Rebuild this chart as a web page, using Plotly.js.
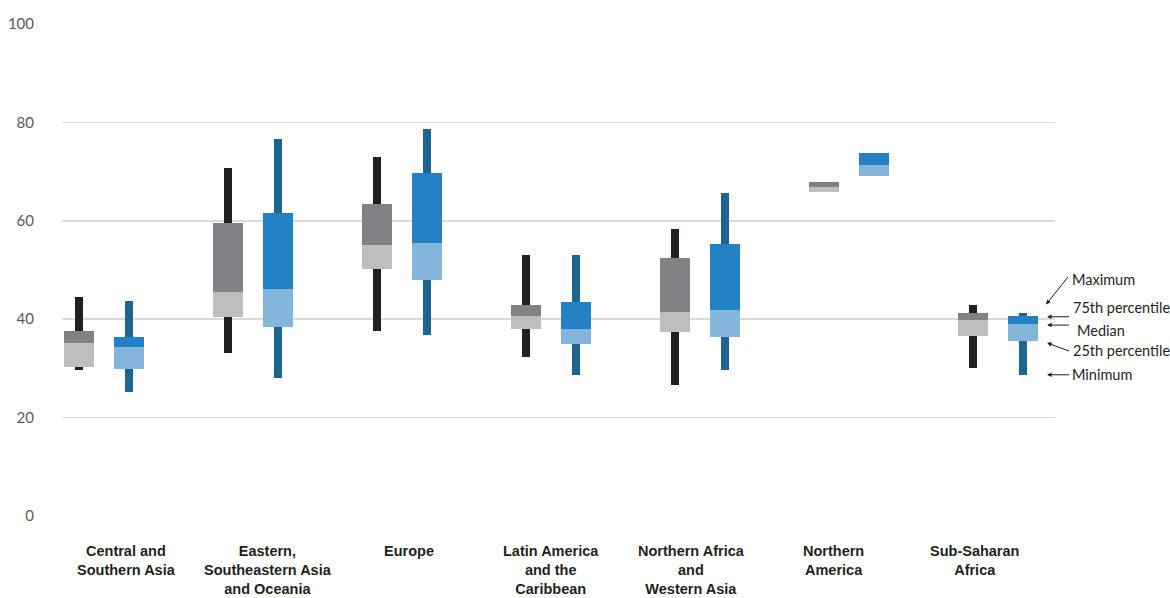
<!DOCTYPE html>
<html>
<head>
<meta charset="utf-8">
<script src="https://cdn.plot.ly/plotly-3.0.1.min.js"></script>
<style>
  html, body { margin: 0; padding: 0; background: #ffffff; }
  #chart { width: 1170px; height: 598px; }
</style>
</head>
<body>
<div id="chart"></div>
<script>
// Regions shown along the horizontal axis
const regions = [
  "Central and<br>Southern Asia",
  "Eastern,<br>Southeastern Asia<br>and Oceania",
  "Europe",
  "Latin America<br>and the<br>Caribbean",
  "Northern Africa<br>and<br>Western Asia",
  "Northern<br>America",
  "Sub-Saharan<br>Africa"
];

// Grey series: minimum, quartiles, median, maximum per region
const greyMin = [29.6, 33.2, 37.7, 32.4, 26.7, 65.9, 30.0];
const greyQ1  = [30.3, 40.5, 50.2, 38.1, 37.5, 65.9, 36.5];
const greyMed = [35.2, 45.6, 55.1, 40.7, 41.5, 66.9, 39.9];
const greyQ3  = [37.6, 59.6, 63.5, 42.9, 52.5, 67.9, 41.2];
const greyMax = [44.5, 70.8, 73.0, 53.1, 58.4, 67.9, 42.9];

// Blue series: minimum, quartiles, median, maximum per region
const blueMin = [25.2, 28.1, 36.7, 28.7, 29.6, 69.1, 28.7];
const blueQ1  = [29.9, 38.5, 47.9, 35.0, 36.3, 69.1, 35.5];
const blueMed = [34.4, 46.2, 55.5, 38.0, 41.9, 71.4, 39.1];
const blueQ3  = [36.4, 61.6, 69.8, 43.5, 55.3, 73.8, 40.7];
const blueMax = [43.7, 76.7, 78.7, 53.1, 65.7, 73.8, 41.3];

// Key labels drawn to the right of the last group
const keyLabels = ["Maximum", "75th percentile", "Median", "25th percentile", "Minimum"];

// ---- layout constants ----
const PAIR_OFFSET = 0.168;   // distance of each box from its group centre
const BOX_W = 0.201;
const WHISKER_W = 0.054;
const LABEL_START = 0.154;   // category label placement along the axis
const LABEL_STEP = 0.948;

const idx = regions.map((_, i) => i);
const diff = (a, b) => a.map((v, i) => v - b[i]);

function boxTraces(xs, mn, q1, med, q3, mx, colors) {
  const common = { type: "bar", x: xs, hoverinfo: "skip", showlegend: false };
  return [
    Object.assign({}, common, { base: mn, y: diff(mx, mn), width: WHISKER_W,
      marker: { color: colors.whisker, line: { width: 0 } } }),
    Object.assign({}, common, { base: q1, y: diff(med, q1), width: BOX_W,
      marker: { color: colors.lower, line: { width: 0 } } }),
    Object.assign({}, common, { base: med, y: diff(q3, med), width: BOX_W,
      marker: { color: colors.upper, line: { width: 0 } } })
  ];
}

const greyX = idx.map(i => i - PAIR_OFFSET);
const blueX = idx.map(i => i + PAIR_OFFSET);

const data = [].concat(
  boxTraces(greyX, greyMin, greyQ1, greyMed, greyQ3, greyMax,
    { whisker: "#231f20", lower: "#bcbec0", upper: "#808285" }),
  boxTraces(blueX, blueMin, blueQ1, blueMed, blueQ3, blueMax,
    { whisker: "#1f6592", lower: "#84b6dc", upper: "#2481c3" })
);

const annotations = [];

// Category labels under the axis
regions.forEach((name, i) => {
  annotations.push({
    text: name, xref: "x", yref: "paper",
    x: LABEL_START + LABEL_STEP * i, y: 0,
    xanchor: "center", yanchor: "top", yshift: -25,
    showarrow: false, align: "center",
    font: { family: "Liberation Sans Narrow, Arial Narrow, sans-serif", size: 14.5, weight: 700, color: "#231f20" }
  });
});

// Key: arrow heads (x, y) with tail offsets (ax, ay), then label positions
const keyArrows = [
  { x: 0.991, y: 0.430, ax: 24, ay: -30 },
  { x: 0.992, y: 0.405, ax: 24, ay: 0 },
  { x: 0.992, y: 0.388, ax: 24, ay: 0 },
  { x: 0.992, y: 0.352, ax: 24, ay: 9 },
  { x: 0.992, y: 0.287, ax: 24, ay: 0 }
];
const keyText = [
  { x: 1.015, y: 0.481 },
  { x: 1.016, y: 0.423 },
  { x: 1.020, y: 0.377 },
  { x: 1.016, y: 0.336 },
  { x: 1.015, y: 0.287 }
];
keyArrows.forEach(a => {
  annotations.push({
    text: " ", xref: "paper", yref: "paper", x: a.x, y: a.y,
    ax: a.ax, ay: a.ay, showarrow: true,
    arrowhead: 2, arrowsize: 0.9, arrowwidth: 1, arrowcolor: "#231f20",
    font: { size: 2 }
  });
});
keyLabels.forEach((t, i) => {
  annotations.push({
    text: t, xref: "paper", yref: "paper", x: keyText[i].x, y: keyText[i].y,
    xanchor: "left", yanchor: "middle", showarrow: false,
    font: { family: "Lato, sans-serif", size: 14.5, color: "#231f20" }
  });
});

const layout = {
  width: 1170, height: 598,
  margin: { l: 62, r: 115, t: 24, b: 82 },
  paper_bgcolor: "#ffffff", plot_bgcolor: "#ffffff",
  barmode: "overlay",
  bargap: 0,
  xaxis: {
    range: [-0.282, 6.383],
    showgrid: false, zeroline: false, showline: false,
    showticklabels: false, ticks: "", fixedrange: true
  },
  yaxis: {
    range: [0, 100],
    tickvals: [0, 20, 40, 60, 80, 100],
    showgrid: true, gridcolor: "#d9dadb", gridwidth: 1.5,
    zeroline: false, showline: false,
    ticks: "outside", ticklen: 24, tickcolor: "rgba(0,0,0,0)",
    tickfont: { family: "Lato, sans-serif", size: 15, color: "#58595b" },
    fixedrange: true
  },
  annotations: annotations
};

Plotly.newPlot("chart", data, layout, { displayModeBar: false, staticPlot: true });
</script>
</body>
</html>
